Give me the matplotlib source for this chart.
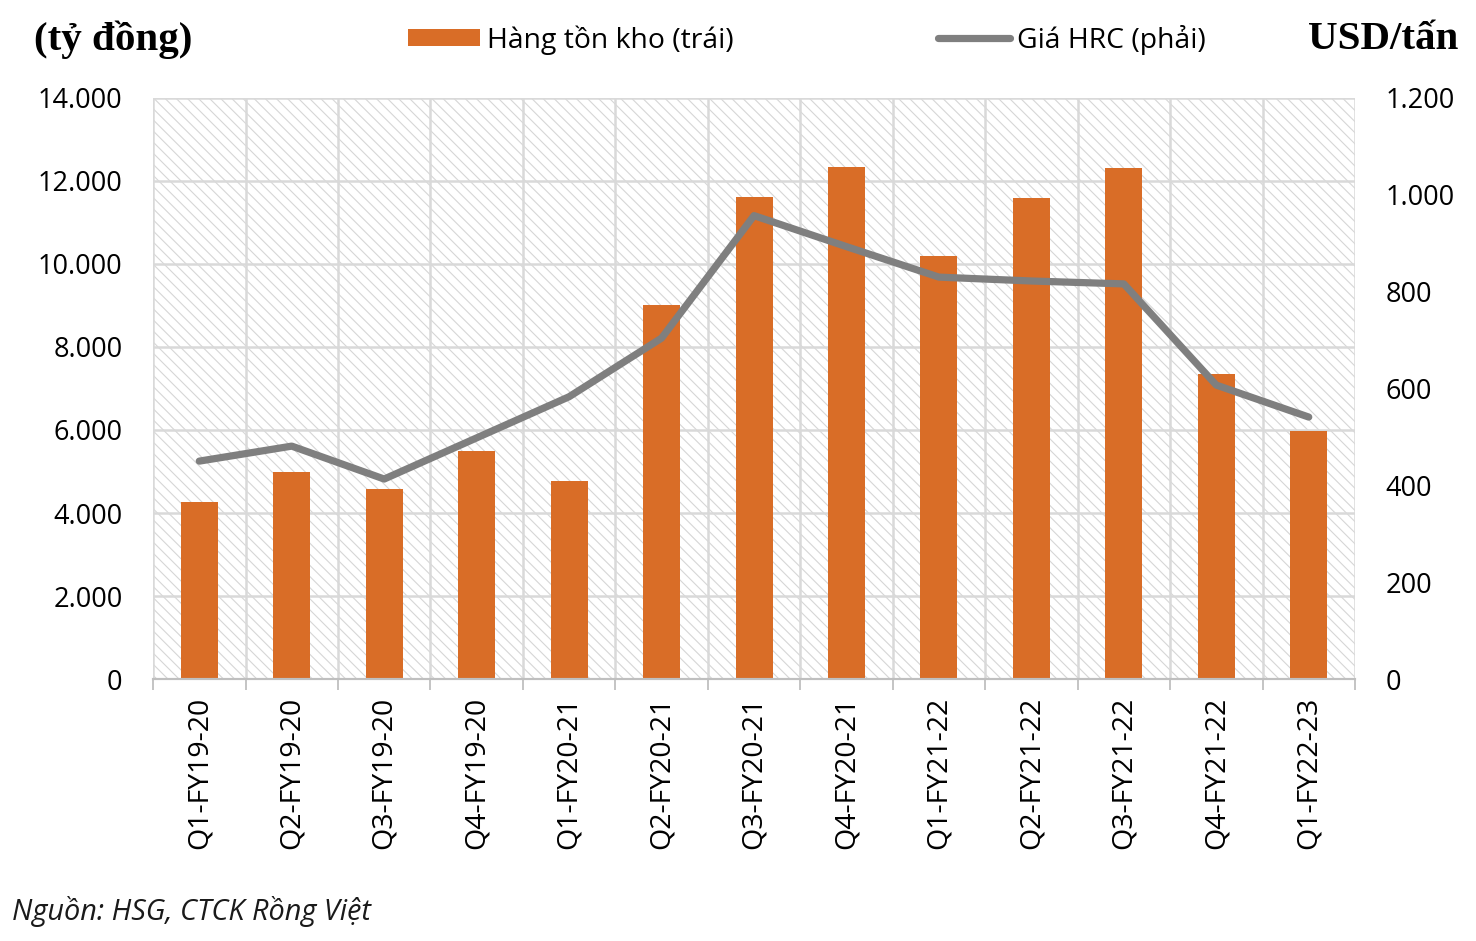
import matplotlib
matplotlib.use("Agg")
import matplotlib.pyplot as plt
from matplotlib.patches import Rectangle
from matplotlib.ticker import FuncFormatter, MultipleLocator
import numpy as np

quarters = [
    "Q1-FY19-20", "Q2-FY19-20", "Q3-FY19-20", "Q4-FY19-20",
    "Q1-FY20-21", "Q2-FY20-21", "Q3-FY20-21", "Q4-FY20-21",
    "Q1-FY21-22", "Q2-FY21-22", "Q3-FY21-22", "Q4-FY21-22",
    "Q1-FY22-23",
]
inventory = [4260, 4990, 4590, 5500, 4780, 9000, 11620, 12340, 10200, 11600, 12320, 7350, 5980]
hrc_price = [450, 481, 413, 498, 583, 704, 957, 893, 830, 822, 816, 607, 541]

BAR_COLOR = "#d96d27"
LINE_COLOR = "#7f7f7f"
GRID_COLOR = "#d9d9d9"
FONT = "Open Sans"


def dot_fmt(v, _pos):
    return f"{int(round(v)):,}".replace(",", ".")


plt.rcParams["hatch.linewidth"] = 0.8

fig = plt.figure(figsize=(14.76, 9.41), dpi=100, facecolor="white")
ax = fig.add_axes([0.1037, 0.2784, 0.8143, 0.6175])
ax2 = ax.twinx()

x = np.arange(len(quarters))

# hatched plot background
ax.add_patch(Rectangle((0, 0), 1, 1, transform=ax.transAxes, facecolor="white",
                       edgecolor="#d6d6d6", hatch="\\\\\\", linewidth=0, zorder=0.1))

bars = ax.bar(x, inventory, width=0.4, color=BAR_COLOR, zorder=2, label="Hàng tồn kho (trái)")
line, = ax2.plot(x, hrc_price, color=LINE_COLOR, lw=5.2, solid_capstyle="round",
                 solid_joinstyle="round", label="Giá HRC (phải)")

ax.set_xlim(-0.5, len(quarters) - 0.5)
ax.set_ylim(0, 14000)
ax2.set_ylim(0, 1200)
ax.yaxis.set_major_locator(MultipleLocator(2000))
ax2.yaxis.set_major_locator(MultipleLocator(200))
ax.yaxis.set_major_formatter(FuncFormatter(dot_fmt))
ax2.yaxis.set_major_formatter(FuncFormatter(dot_fmt))

ax.set_xticks(x)
ax.set_xticklabels(quarters, rotation=90, fontsize=20.5, family=FONT)
ax.set_xticks(np.arange(-0.5, len(quarters)), minor=True)
ax.tick_params(axis="x", which="major", length=0, pad=13)
ax.tick_params(axis="x", which="minor", length=8, color="#bfbfbf", width=1.3)
ax.tick_params(axis="y", length=0, pad=22, labelsize=19.5)
ax2.tick_params(axis="y", length=0, pad=22, labelsize=19.5)
for lbl in ax.get_yticklabels() + ax2.get_yticklabels():
    lbl.set_family(FONT)

ax.set_axisbelow(True)
ax.grid(axis="y", color=GRID_COLOR, lw=1.8, zorder=0.5)
ax.grid(axis="x", which="minor", color=GRID_COLOR, lw=1.8, zorder=0.5)
for a in (ax, ax2):
    for side in ("left", "right", "top"):
        a.spines[side].set_visible(False)
    a.spines["bottom"].set_color("#bfbfbf")
    a.spines["bottom"].set_linewidth(1.5)

# unit headers
fig.text(0.023, 0.958, "(tỷ đồng)", family="Liberation Serif", weight="bold",
         fontsize=29.5, ha="left", va="center")
fig.text(0.988, 0.958, "USD/tấn", family="Liberation Serif", weight="bold",
         fontsize=29.5, ha="right", va="center")

fig.legend(handles=[bars, line], loc="center left", bbox_to_anchor=(0.2764, 0.958),
           ncol=2, frameon=False, prop={"family": FONT, "size": 20.4},
           handlelength=2.55, handleheight=0.55, handletextpad=0.25, columnspacing=7.2,
           borderpad=0, borderaxespad=0)

fig.text(0.008, 0.031, "Nguồn: HSG, CTCK Rồng Việt", family=FONT, style="italic",
         fontsize=20.8, ha="left", va="center", color="#1a1a1a")

fig.savefig("out.png", dpi=100, facecolor="white")
